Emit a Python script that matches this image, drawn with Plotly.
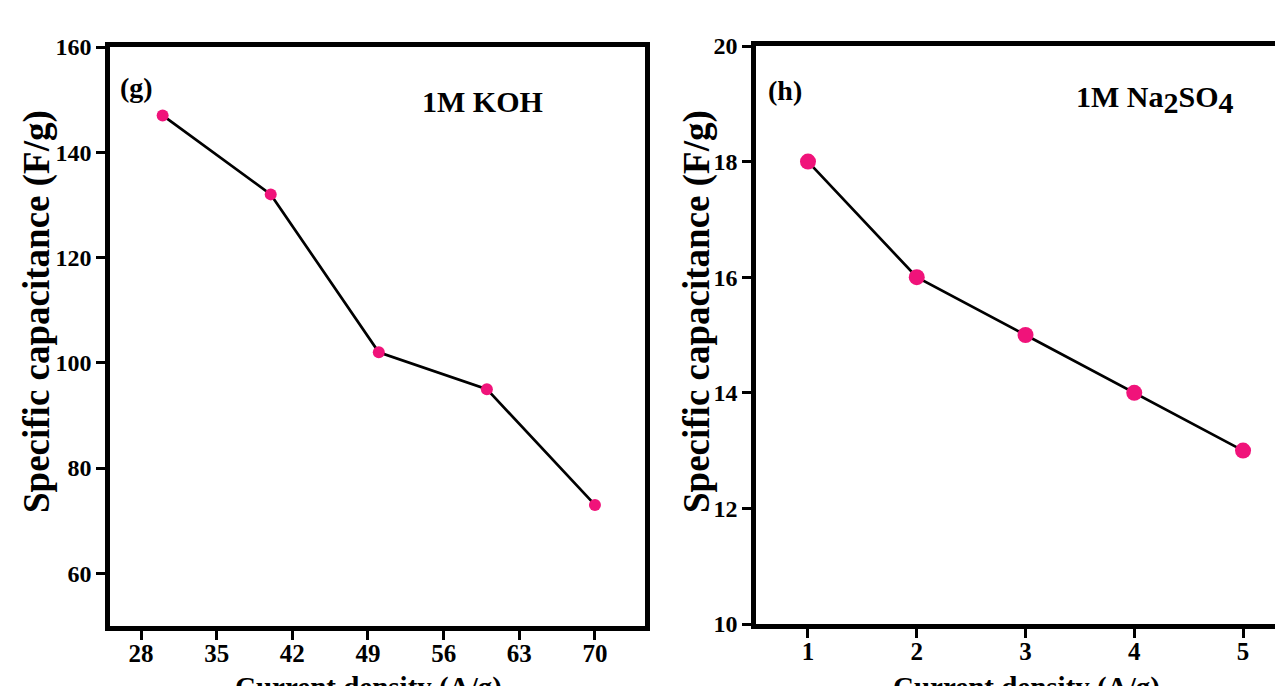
import plotly.graph_objects as go

# Data
koh_current = [30, 40, 50, 60, 70]
koh_capacitance = [147, 132, 102, 95, 73]
na_current = [1, 2, 3, 4, 5]
na_capacitance = [18, 16, 15, 14, 13]

koh_xticks = [28, 35, 42, 49, 56, 63, 70]
koh_yticks = [60, 80, 100, 120, 140, 160]
na_xticks = [1, 2, 3, 4, 5]
na_yticks = [10, 12, 14, 16, 18, 20]

W, H = 1283, 686
OFF = 8  # page body margin in the browser
def px(x):
    return (x - OFF) / W
def py(y):
    return 1 - (y - OFF) / H

FONT = "Liberation Serif"
PINK = "#f0137a"

fig = go.Figure()
fig.add_trace(go.Scatter(x=koh_current, y=koh_capacitance, mode="lines+markers",
                         line=dict(color="black", width=2.7),
                         marker=dict(color=PINK, size=12), xaxis="x", yaxis="y",
                         showlegend=False))
fig.add_trace(go.Scatter(x=na_current, y=na_capacitance, mode="lines+markers",
                         line=dict(color="black", width=2.7),
                         marker=dict(color=PINK, size=16), xaxis="x2", yaxis="y2",
                         showlegend=False))

axis_common = dict(showgrid=False, zeroline=False, showline=True, linecolor="black",
                   linewidth=4.5, ticks="outside", ticklen=9, tickwidth=3,
                   tickcolor="black", automargin=False)

tick_y = dict(family=FONT, size=24, color="black", weight="bold")
tick_x = dict(family=FONT, size=25, color="black", weight="bold")

fig.update_layout(
    template="none",
    width=W, height=H,
    margin=dict(l=0, r=0, t=0, b=0),
    paper_bgcolor="white", plot_bgcolor="white",
    xaxis=dict(domain=[px(110), px(645)], range=[25.13, 74.63], tickvals=koh_xticks,
               mirror=True, anchor="y", ticklabelstandoff=-8, tickfont=tick_x,
               **axis_common),
    yaxis=dict(domain=[py(626), py(47)], range=[50, 160], tickvals=koh_yticks,
               mirror=True, anchor="x", ticklabelstandoff=0, tickfont=tick_y,
               **axis_common),
    xaxis2=dict(domain=[px(756), 1.0], range=[0.522, 5.441], tickvals=na_xticks,
                mirror=True, anchor="y2", ticklabelstandoff=-8, tickfont=tick_x,
                **axis_common),
    yaxis2=dict(domain=[py(624), py(46)], range=[10, 20], tickvals=na_yticks,
                mirror=False, anchor="x2", ticklabelstandoff=0, tickfont=tick_y,
                **axis_common),
)

# Axis titles (x titles are partly cut off at the bottom edge, as in the reference)
xtitle_font = dict(family=FONT, size=29, color="black", weight="bold")
for xc in (368, 1026):
    fig.add_annotation(x=px(xc), y=py(669), xref="paper", yref="paper",
                       text="Current density (A/g)", xanchor="center", yanchor="top",
                       showarrow=False, font=xtitle_font)

ytitle_font = dict(family=FONT, size=37, color="black", weight="bold")
for xc in (37, 697):
    fig.add_annotation(x=px(xc), y=py(312), xref="paper", yref="paper",
                       text="Specific capacitance (F/g)", textangle=-90,
                       xanchor="center", yanchor="middle", showarrow=False,
                       font=ytitle_font)

ann_font = dict(family=FONT, size=28, color="black", weight="bold")
lab_font = dict(family=FONT, size=30, color="black", weight="bold")
common = dict(xref="paper", yref="paper", showarrow=False,
              xanchor="center", yanchor="middle")
fig.add_annotation(x=px(136), y=py(87), text="(g)", font=ann_font, **common)
fig.add_annotation(x=px(482), y=py(102), text="1M KOH", font=lab_font, **common)
fig.add_annotation(x=px(785), y=py(90), text="(h)", font=ann_font, **common)
fig.add_annotation(x=px(1155), y=py(100),
                   text="1M Na<sub><span style='font-size:30px'>2</span></sub>SO"
                        "<sub><span style='font-size:30px'>4</span></sub>",
                   font=lab_font, **common)

fig.write_html("out.html")
